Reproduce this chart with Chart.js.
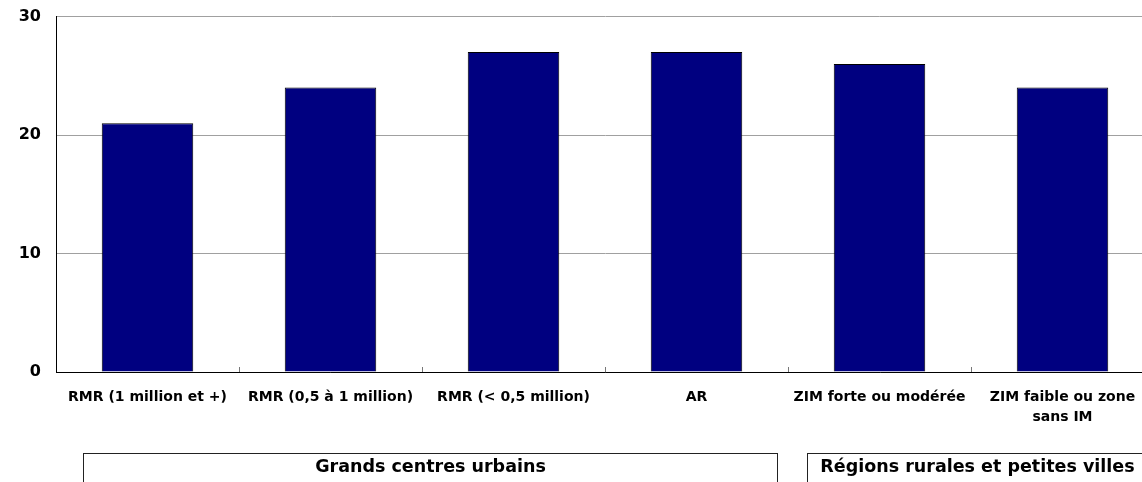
<!DOCTYPE html>
<html lang="fr">
<head>
<meta charset="utf-8">
<title>Répartition par type de région</title>
<script src="https://cdn.jsdelivr.net/npm/chart.js@4.4.1/dist/chart.umd.min.js"></script>
<style>
  html, body { margin: 0; padding: 0; background: #fff; overflow: hidden; }
  body { width: 1142px; height: 482px; position: relative; font-family: "DejaVu Sans", sans-serif; }
  #wrap { position: absolute; left: 0; top: 0; width: 1160px; height: 482px; }
  .group {
    position: absolute; top: 453px; height: 60px;
    border: 1px solid #222; box-sizing: border-box;
    font-weight: bold; font-size: 17.5px; text-align: center;
    padding-top: 2px; line-height: 20px; color: #000;
    font-family: "DejaVu Sans", sans-serif;
  }
</style>
</head>
<body>
<div id="wrap"><canvas id="chart" width="1160" height="482"></canvas></div>
<div class="group" style="left:83px; width:695px;">Grands centres urbains</div>
<div class="group" style="left:807px; width:341px;">Régions rurales et petites villes</div>
<script>
// Region types along the horizontal axis
const categories = [
  'RMR (1 million et +)',
  'RMR (0,5 à 1 million)',
  'RMR (< 0,5 million)',
  'AR',
  'ZIM forte ou modérée',
  ['ZIM faible ou zone', 'sans IM']
];
// Value per region type
const values = [21, 24, 27, 27, 26, 24];
// Vertical axis ticks
const yTicks = [0, 10, 20, 30];

const ctx = document.getElementById('chart');
new Chart(ctx, {
  type: 'bar',
  data: {
    labels: categories,
    datasets: [{
      data: values,
      backgroundColor: '#000080',
      borderColor: '#000000',
      borderWidth: 1,
      categoryPercentage: 1.0,
      barPercentage: 0.5
    }]
  },
  options: {
    responsive: false,
    animation: false,
    layout: { padding: { top: 16.5, right: 6, left: 0, bottom: 0 } },
    plugins: { legend: { display: false }, tooltip: { enabled: false } },
    scales: {
      x: {
        grid: {
          drawOnChartArea: false,
          drawTicks: true,
          tickLength: -5,
          tickColor: '#777777',
          offset: true
        },
        border: { display: true, color: '#000000', width: 1 },
        ticks: {
          color: '#000000',
          padding: 20,
          maxRotation: 0,
          autoSkip: false,
          font: { family: 'DejaVu Sans', size: 14, weight: 'bold', lineHeight: 1.46 }
        },
        afterFit: (scale) => {
          scale.height = 110;
          scale.paddingLeft = 0;
          scale.paddingRight = 0;
        }
      },
      y: {
        min: 0,
        max: 30,
        afterBuildTicks: (scale) => { scale.ticks = yTicks.map(v => ({ value: v })); },
        grid: { color: '#a0a0a0', lineWidth: 1, drawTicks: false },
        border: { display: true, color: '#000000', width: 1 },
        ticks: {
          color: '#000000',
          padding: 15,
          font: { family: 'DejaVu Sans', size: 16, weight: 'bold' }
        },
        afterFit: (scale) => {
          scale.width = 56;
          scale.paddingTop = 0;
          scale.paddingBottom = 0;
        }
      }
    }
  }
});
</script>
</body>
</html>
